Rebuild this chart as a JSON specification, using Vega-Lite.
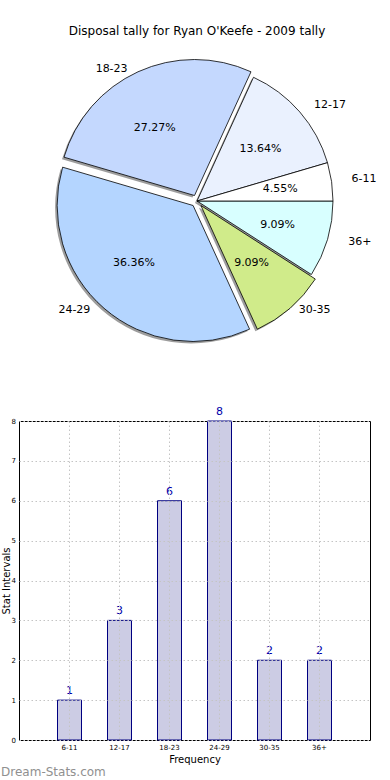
{
  "$schema": "https://vega.github.io/schema/vega-lite/v6.json",
  "padding": {"top": 25, "left": 0, "right": 0, "bottom": 0},
  "spacing": 56,
  "config": {"font": "DejaVu Sans"},
  "datasets": {
    "d": [
      {"cat": "36+", "count": 2, "pct": 9.09},
      {"cat": "30-35", "count": 2, "pct": 9.09},
      {"cat": "24-29", "count": 8, "pct": 36.36},
      {"cat": "18-23", "count": 6, "pct": 27.27},
      {"cat": "12-17", "count": 3, "pct": 13.64},
      {"cat": "6-11", "count": 1, "pct": 4.55}
    ]
  },
  "vconcat": [
    {
      "width": 356,
      "height": 296,
      "view": {"stroke": null},
      "title": {"text": "Disposal tally for Ryan O'Keefe - 2009 tally", "fontSize": 12, "fontWeight": "normal", "color": "black", "anchor": "middle", "offset": 15},
      "data": {"name": "d"},
      "transform": [
        {"stack": "count", "groupby": [], "as": ["a0", "a1"]},
        {"calculate": "(datum.a0 + datum.a1) / 2", "as": "mid"},
        {"calculate": "format(datum.pct, '.2f') + '%'", "as": "plabel"}
      ],
      "encoding": {
        "theta": {"field": "a0", "type": "quantitative", "scale": {"domain": [0, 22], "range": [1.5707963, 7.8539816]}},
        "theta2": {"field": "a1"}
      },
      "layer": [
        {"transform": [{"filter": {"field": "cat", "oneOf": ["36+", "6-11", "12-17"]}}],
         "mark": {"type": "arc", "radius": 136, "fill": "#4d4d4d", "opacity": 0.55, "xOffset": -2, "yOffset": 2}},
        {"transform": [{"filter": {"field": "cat", "equal": "30-35"}}],
         "mark": {"type": "arc", "radius": 136, "fill": "#4d4d4d", "opacity": 0.55, "xOffset": 1.9, "yOffset": 6.5}},
        {"transform": [{"filter": {"field": "cat", "equal": "24-29"}}],
         "mark": {"type": "arc", "radius": 136, "fill": "#4d4d4d", "opacity": 0.55, "xOffset": -5.9, "yOffset": 6.5}},
        {"transform": [{"filter": {"field": "cat", "equal": "18-23"}}],
         "mark": {"type": "arc", "radius": 136, "fill": "#4d4d4d", "opacity": 0.55, "xOffset": -4.5, "yOffset": -3.5}},
        {"transform": [{"filter": {"field": "cat", "oneOf": ["36+", "6-11", "12-17"]}}],
         "mark": {"type": "arc", "radius": 136, "stroke": "black", "strokeWidth": 0.8},
         "encoding": {"color": {"field": "cat", "type": "nominal", "legend": null, "scale": {"domain": ["36+", "30-35", "24-29", "18-23", "12-17", "6-11"], "range": ["#d8ffff", "#d0eb8a", "#b4d5ff", "#c4d8fe", "#eaf1fe", "#ffffff"]}}}},
        {"transform": [{"filter": {"field": "cat", "equal": "30-35"}}],
         "mark": {"type": "arc", "radius": 136, "stroke": "black", "strokeWidth": 0.8, "xOffset": 3.9, "yOffset": 4.5},
         "encoding": {"color": {"field": "cat", "type": "nominal", "legend": null, "scale": {"domain": ["36+", "30-35", "24-29", "18-23", "12-17", "6-11"], "range": ["#d8ffff", "#d0eb8a", "#b4d5ff", "#c4d8fe", "#eaf1fe", "#ffffff"]}}}},
        {"transform": [{"filter": {"field": "cat", "equal": "24-29"}}],
         "mark": {"type": "arc", "radius": 136, "stroke": "black", "strokeWidth": 0.8, "xOffset": -3.9, "yOffset": 4.5},
         "encoding": {"color": {"field": "cat", "type": "nominal", "legend": null, "scale": {"domain": ["36+", "30-35", "24-29", "18-23", "12-17", "6-11"], "range": ["#d8ffff", "#d0eb8a", "#b4d5ff", "#c4d8fe", "#eaf1fe", "#ffffff"]}}}},
        {"transform": [{"filter": {"field": "cat", "equal": "18-23"}}],
         "mark": {"type": "arc", "radius": 136, "stroke": "black", "strokeWidth": 0.8, "xOffset": -2.5, "yOffset": -5.5},
         "encoding": {"color": {"field": "cat", "type": "nominal", "legend": null, "scale": {"domain": ["36+", "30-35", "24-29", "18-23", "12-17", "6-11"], "range": ["#d8ffff", "#d0eb8a", "#b4d5ff", "#c4d8fe", "#eaf1fe", "#ffffff"]}}}},
        {"transform": [{"filter": {"field": "cat", "oneOf": ["36+", "6-11"]}}],
         "mark": {"type": "text", "fontSize": 11, "color": "black", "baseline": "middle", "align": "center"},
         "encoding": {"theta": {"field": "mid", "type": "quantitative", "scale": {"domain": [0, 22], "range": [1.5707963, 7.8539816]}}, "theta2": null, "radius": {"value": 84}, "text": {"field": "plabel"}}},
        {"transform": [{"filter": {"field": "cat", "equal": "12-17"}}],
         "mark": {"type": "text", "fontSize": 11, "color": "black", "baseline": "middle", "align": "center", "yOffset": 3},
         "encoding": {"theta": {"field": "mid", "type": "quantitative", "scale": {"domain": [0, 22], "range": [1.5707963, 7.8539816]}}, "theta2": null, "radius": {"value": 84}, "text": {"field": "plabel"}}},
        {"transform": [{"filter": {"field": "cat", "equal": "30-35"}}],
         "mark": {"type": "text", "fontSize": 11, "color": "black", "baseline": "middle", "align": "center", "xOffset": 0.9, "yOffset": 0.5},
         "encoding": {"theta": {"field": "mid", "type": "quantitative", "scale": {"domain": [0, 22], "range": [1.5707963, 7.8539816]}}, "theta2": null, "radius": {"value": 82}, "text": {"field": "plabel"}}},
        {"transform": [{"filter": {"field": "cat", "equal": "24-29"}}],
         "mark": {"type": "text", "fontSize": 11, "color": "black", "baseline": "middle", "align": "center", "xOffset": -7.9, "yOffset": -1.5},
         "encoding": {"theta": {"field": "mid", "type": "quantitative", "scale": {"domain": [0, 22], "range": [1.5707963, 7.8539816]}}, "theta2": null, "radius": {"value": 84}, "text": {"field": "plabel"}}},
        {"transform": [{"filter": {"field": "cat", "equal": "18-23"}}],
         "mark": {"type": "text", "fontSize": 11, "color": "black", "baseline": "middle", "align": "center", "xOffset": -7.5, "yOffset": 3.5},
         "encoding": {"theta": {"field": "mid", "type": "quantitative", "scale": {"domain": [0, 22], "range": [1.5707963, 7.8539816]}}, "theta2": null, "radius": {"value": 84}, "text": {"field": "plabel"}}},
        {"transform": [{"filter": {"field": "cat", "equal": "18-23"}}],
         "mark": {"type": "text", "fontSize": 11, "color": "black", "baseline": "middle", "align": "right", "xOffset": -10, "yOffset": -2},
         "encoding": {"theta": {"field": "mid", "type": "quantitative", "scale": {"domain": [0, 22], "range": [1.5707963, 7.8539816]}}, "theta2": null, "radius": {"value": 143}, "text": {"field": "cat"}}},
        {"transform": [{"filter": {"field": "cat", "equal": "24-29"}}],
         "mark": {"type": "text", "fontSize": 11, "color": "black", "baseline": "middle", "align": "right", "xOffset": -13, "yOffset": 1},
         "encoding": {"theta": {"field": "mid", "type": "quantitative", "scale": {"domain": [0, 22], "range": [1.5707963, 7.8539816]}}, "theta2": null, "radius": {"value": 143}, "text": {"field": "cat"}}},
        {"transform": [{"filter": {"field": "cat", "equal": "30-35"}}],
         "mark": {"type": "text", "fontSize": 11, "color": "black", "baseline": "middle", "align": "left", "xOffset": 8, "yOffset": 1},
         "encoding": {"theta": {"field": "mid", "type": "quantitative", "scale": {"domain": [0, 22], "range": [1.5707963, 7.8539816]}}, "theta2": null, "radius": {"value": 143}, "text": {"field": "cat"}}},
        {"transform": [{"filter": {"field": "cat", "equal": "36+"}}],
         "mark": {"type": "text", "fontSize": 11, "color": "black", "baseline": "middle", "align": "left", "xOffset": 14, "yOffset": 1},
         "encoding": {"theta": {"field": "mid", "type": "quantitative", "scale": {"domain": [0, 22], "range": [1.5707963, 7.8539816]}}, "theta2": null, "radius": {"value": 143}, "text": {"field": "cat"}}},
        {"transform": [{"filter": {"field": "cat", "equal": "6-11"}}],
         "mark": {"type": "text", "fontSize": 11, "color": "black", "baseline": "middle", "align": "left", "xOffset": 13, "yOffset": -2},
         "encoding": {"theta": {"field": "mid", "type": "quantitative", "scale": {"domain": [0, 22], "range": [1.5707963, 7.8539816]}}, "theta2": null, "radius": {"value": 143}, "text": {"field": "cat"}}},
        {"transform": [{"filter": {"field": "cat", "equal": "12-17"}}],
         "mark": {"type": "text", "fontSize": 11, "color": "black", "baseline": "middle", "align": "left", "xOffset": 9, "yOffset": -2},
         "encoding": {"theta": {"field": "mid", "type": "quantitative", "scale": {"domain": [0, 22], "range": [1.5707963, 7.8539816]}}, "theta2": null, "radius": {"value": 143}, "text": {"field": "cat"}}}
      ]
    },
    {
      "width": 351,
      "height": 319,
      "view": {"stroke": "black", "strokeWidth": 1},
      "title": {"text": "Dream-Stats.com", "orient": "bottom", "anchor": "start", "frame": "bounds", "fontSize": 12, "fontWeight": "normal", "color": "#909090", "offset": 3},
      "data": {"name": "d"},
      "encoding": {
        "x": {"field": "cat", "type": "nominal", "sort": ["6-11", "12-17", "18-23", "24-29", "30-35", "36+"],
              "scale": {"paddingInner": 0.52, "paddingOuter": 0.77},
              "axis": {"title": "Frequency", "labelAngle": 0, "labelFontSize": 7, "labelColor": "black", "labelPadding": 3, "ticks": false, "domain": false, "grid": true, "gridDash": [1.5, 2.5], "gridColor": "#c4c4c4", "zindex": 1, "titleFontSize": 10, "titleFontWeight": "normal", "titleColor": "black", "titlePadding": 4}},
        "y": {"field": "count", "type": "quantitative", "scale": {"domain": [0, 8], "nice": false},
              "axis": {"title": "Stat Intervals", "values": [0, 1, 2, 3, 4, 5, 6, 7, 8], "format": "d", "labelFontSize": 7, "labelColor": "black", "labelPadding": 3.5, "ticks": false, "domain": false, "grid": true, "gridDash": [1.5, 2.5], "gridColor": "#c4c4c4", "zindex": 1, "titleFontSize": 10, "titleFontWeight": "normal", "titleColor": "black", "titlePadding": 0}}
      },
      "layer": [
        {"mark": {"type": "bar", "fill": "#ccccE4", "stroke": "#000080", "strokeWidth": 1}},
        {"mark": {"type": "text", "dy": -4, "fontSize": 11, "color": "#0000aa", "baseline": "bottom"}, "encoding": {"text": {"field": "count", "type": "quantitative"}}}
      ]
    }
  ]
}
